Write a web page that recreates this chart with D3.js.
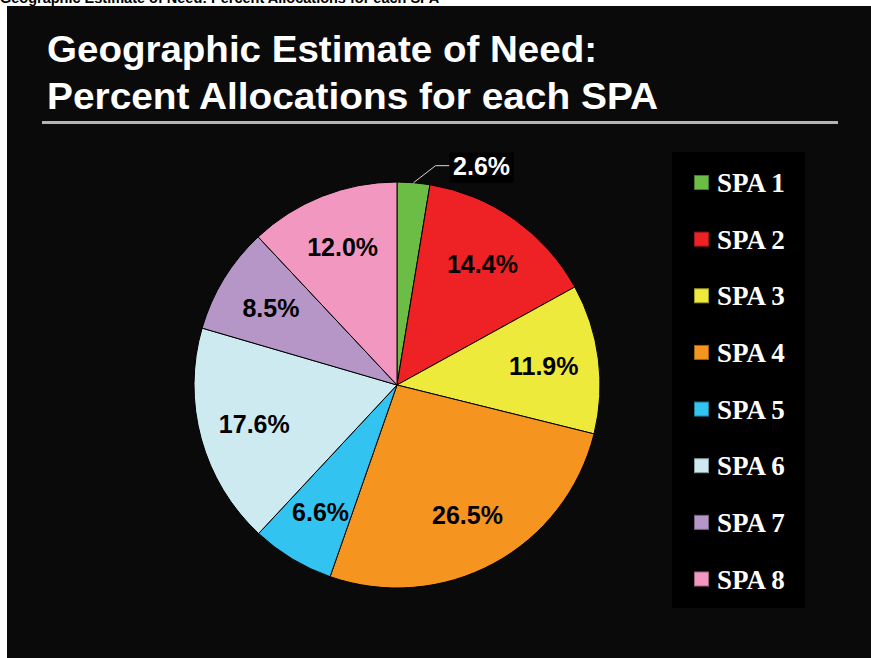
<!DOCTYPE html>
<html>
<head>
<meta charset="utf-8">
<script src="https://cdn.jsdelivr.net/npm/d3@7"></script>
<style>
  body { margin: 0; background: #fff; }
  svg { display: block; }
</style>
</head>
<body>
<div id="app"></div>
<script>
const spas = ['SPA 1', 'SPA 2', 'SPA 3', 'SPA 4', 'SPA 5', 'SPA 6', 'SPA 7', 'SPA 8'];
const shares = [2.6, 14.4, 11.9, 26.5, 6.6, 17.6, 8.5, 12.0];
const colors = ['#6cbd45', '#ee2225', '#eeea3c', '#f5951f', '#33c3f0', '#cdeaf0', '#b696c6', '#f197c0'];
const titleLines = ['Geographic Estimate of Need:', 'Percent Allocations for each SPA'];

const W = 871, H = 658;

const svg = d3.select('#app').append('svg')
    .attr('width', W)
    .attr('height', H);

// cut-off caption at the very top (white strip)
svg.append('text')
    .attr('x', 0)
    .attr('y', 3)
    .attr('font-family', 'Liberation Sans, Arial, sans-serif')
    .attr('font-weight', 'bold')
    .attr('font-size', 14.5)
    .attr('fill', '#000')
    .text(titleLines.join(' '));

// dark slide panel
svg.append('rect')
    .attr('x', 7)
    .attr('y', 6)
    .attr('width', W - 7)
    .attr('height', H - 6)
    .attr('fill', '#0a0a0a');

// title
const titleWidths = [550, 611];
svg.selectAll('.title')
    .data(titleLines)
    .enter().append('text')
      .attr('class', 'title')
      .attr('x', 47)
      .attr('y', (d, i) => 62 + i * 47)
      .attr('font-family', 'Liberation Sans, Arial, sans-serif')
      .attr('font-weight', 'bold')
      .attr('font-size', 37)
      .attr('fill', '#fff')
      .attr('textLength', (d, i) => titleWidths[i])
      .attr('lengthAdjust', 'spacingAndGlyphs')
      .text(d => d);

svg.append('line')
    .attr('x1', 42)
    .attr('x2', 838)
    .attr('y1', 122.5)
    .attr('y2', 122.5)
    .attr('stroke', '#b4b4b4')
    .attr('stroke-width', 3);

// pie
const cx = 397, cy = 385, radius = 203;
const color = d3.scaleOrdinal().domain(spas).range(colors);

const pie = d3.pie()
    .sort(null)
    .value(d => d.value);

const data = spas.map((name, i) => ({ name, value: shares[i] }));
const arcs = pie(data);

const arc = d3.arc().innerRadius(0).outerRadius(radius);
const labelArc = d3.arc().innerRadius(148).outerRadius(148);
const edgeArc = d3.arc().innerRadius(radius).outerRadius(radius);

const gPie = svg.append('g')
    .attr('transform', `translate(${cx},${cy})`);

gPie.selectAll('path')
    .data(arcs)
    .enter().append('path')
      .attr('d', arc)
      .attr('fill', d => color(d.data.name))
      .attr('stroke', '#000')
      .attr('stroke-width', 1);

const fmt = d => d3.format('.1f')(d) + '%';
const inside = arcs.filter(d => d.data.value >= 5);
const outside = arcs.filter(d => d.data.value < 5);

gPie.selectAll('.lbl')
    .data(inside)
    .enter().append('text')
      .attr('class', 'lbl')
      .attr('transform', d => `translate(${labelArc.centroid(d)})`)
      .attr('text-anchor', 'middle')
      .attr('dy', '0.36em')
      .attr('font-family', 'Liberation Sans, Arial, sans-serif')
      .attr('font-weight', 'bold')
      .attr('font-size', 25)
      .attr('fill', '#000')
      .text(d => fmt(d.data.value));

// small slice: callout with leader line
outside.forEach(d => {
  const p0 = edgeArc.centroid(d);
  const p1 = [p0[0] + 22, p0[1] - 17];
  const p2 = [p1[0] + 14, p1[1]];
  gPie.append('polyline')
      .attr('points', [p0, p1, p2].map(p => p.join(',')).join(' '))
      .attr('fill', 'none')
      .attr('stroke', '#d8d8d8')
      .attr('stroke-width', 1);
  const g = gPie.append('g')
      .attr('transform', `translate(${p2[0]},${p1[1]})`);
  g.append('rect')
      .attr('x', 0)
      .attr('y', -13)
      .attr('width', 64)
      .attr('height', 30)
      .attr('fill', '#000');
  g.append('text')
      .attr('x', 32)
      .attr('y', 0)
      .attr('dy', '0.36em')
      .attr('text-anchor', 'middle')
      .attr('font-family', 'Liberation Sans, Arial, sans-serif')
      .attr('font-weight', 'bold')
      .attr('font-size', 25)
      .attr('fill', '#fff')
      .text(fmt(d.data.value));
});

// legend
const legY = d3.scalePoint()
    .domain(spas)
    .range([182.5, 579]);

svg.append('rect')
    .attr('x', 672)
    .attr('y', 152)
    .attr('width', 133)
    .attr('height', 456)
    .attr('fill', '#000');

const legend = svg.selectAll('.legend')
    .data(spas)
    .enter().append('g')
      .attr('class', 'legend')
      .attr('transform', d => `translate(694,${legY(d)})`);

legend.append('rect')
    .attr('x', 0.5)
    .attr('y', -7)
    .attr('width', 14)
    .attr('height', 14)
    .attr('fill', d => color(d))
    .attr('stroke', d => d3.color(color(d)).darker(1.2))
    .attr('stroke-width', 1);

legend.append('text')
    .attr('x', 23)
    .attr('y', 9.5)
    .attr('font-family', 'Liberation Serif, Times New Roman, serif')
    .attr('font-weight', 'bold')
    .attr('font-size', 27)
    .attr('fill', '#fff')
    .text(d => d);
</script>
</body>
</html>
